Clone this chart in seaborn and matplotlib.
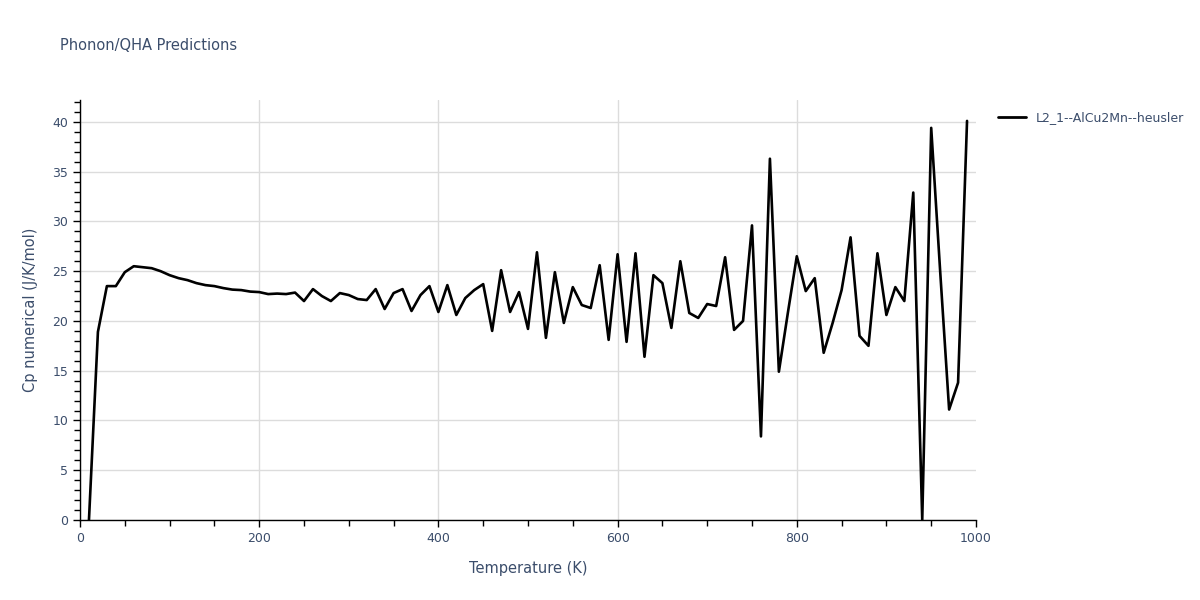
import numpy as np
import pandas as pd
import matplotlib
matplotlib.use("Agg")
import matplotlib.pyplot as plt
import seaborn as sns
from matplotlib.ticker import MultipleLocator

# -------------------------
# DATA
# -------------------------
temperature = list(range(10, 1000, 10))
cp_numerical = [
    0.0, 18.9, 23.5, 23.5, 24.9, 25.5, 25.4, 25.3, 25.0, 24.6,
    24.3, 24.1, 23.8, 23.6, 23.5, 23.3, 23.15, 23.1, 22.95, 22.9,
    22.7, 22.75, 22.7, 22.85, 22.0, 23.2, 22.5, 22.0, 22.8, 22.6,
    22.2, 22.1, 23.2, 21.2, 22.8, 23.2, 21.0, 22.6, 23.5, 20.9,
    23.6, 20.6, 22.3, 23.1, 23.7, 19.0, 25.1, 20.9, 22.9, 19.2,
    26.9, 18.3, 24.9, 19.8, 23.4, 21.6, 21.3, 25.6, 18.1, 26.7,
    17.9, 26.8, 16.4, 24.6, 23.8, 19.3, 26.0, 20.8, 20.3, 21.7,
    21.5, 26.4, 19.1, 20.0, 29.6, 8.4, 36.3, 14.9, 20.8, 26.5,
    23.0, 24.3, 16.8, 19.8, 23.1, 28.4, 18.5, 17.5, 26.8, 20.6,
    23.4, 22.0, 32.9, 0.0, 39.4, 25.0, 11.1, 13.8, 40.1,
]
series_name = "L2_1--AlCu2Mn--heusler"

df = pd.DataFrame({"T": temperature, "Cp": cp_numerical, "series": series_name})

# -------------------------
# PLOT
# -------------------------
sns.set_style("white")
plt.rcParams["font.family"] = ["DejaVu Sans"]
text_color = "#3b4d6b"

fig = plt.figure(figsize=(12, 6), dpi=100)
ax = fig.add_axes([80 / 1200, 80 / 600, 896 / 1200, 420 / 600])

sns.lineplot(data=df, x="T", y="Cp", hue="series", palette=["black"],
             linewidth=1.9, ax=ax, legend=True)

ax.set_xlim(0, 1000)
ax.set_ylim(0, 42.2)
ax.xaxis.set_major_locator(MultipleLocator(200))
ax.xaxis.set_minor_locator(MultipleLocator(50))
ax.yaxis.set_major_locator(MultipleLocator(5))
ax.yaxis.set_minor_locator(MultipleLocator(1))

ax.grid(True, which="major", color="#dcdcdc", linewidth=1)
ax.set_axisbelow(True)
# no gridline on the right edge (x = 1000)
for tick in ax.xaxis.get_major_ticks():
    if abs(tick.get_loc() - 1000) < 1e-6:
        tick.gridline.set_visible(False)

for side in ["top", "right"]:
    ax.spines[side].set_visible(False)
for side in ["left", "bottom"]:
    ax.spines[side].set_color("black")
    ax.spines[side].set_linewidth(1)

ax.tick_params(axis="both", which="both", direction="out", color="black",
               labelcolor=text_color, labelsize=9, width=1,
               bottom=True, left=True, top=False, right=False)
ax.tick_params(which="major", length=5)
ax.tick_params(which="minor", length=4)

ax.set_xlabel("Temperature (K)", color=text_color, fontsize=10.5, labelpad=12)
ax.set_ylabel("Cp numerical (J/K/mol)", color=text_color, fontsize=10.5, labelpad=10)

fig.text(60 / 1200, 1 - 45 / 600, "Phonon/QHA Predictions", color=text_color,
         fontsize=10.5, va="center", ha="left")

leg = ax.legend(loc="upper left", bbox_to_anchor=(1.012, 1.0), frameon=False,
                fontsize=9, handlelength=2.2, labelcolor=text_color)
for line in leg.get_lines():
    line.set_linewidth(2)

plt.savefig("out.png", dpi=100)
plt.close()
